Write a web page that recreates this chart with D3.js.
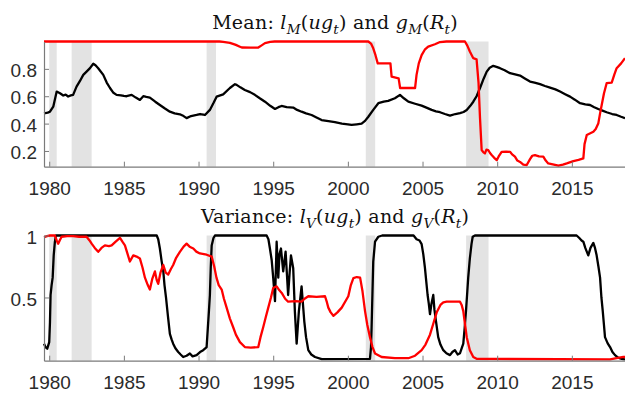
<!DOCTYPE html>
<html>
<head>
<meta charset="utf-8">
<script src="https://cdn.jsdelivr.net/npm/d3@7"></script>
<style>
  body { margin: 0; background: #fff; }
  svg { display: block; }
  .tick text { font-family: "Liberation Sans", Arial, sans-serif; font-size: 19px; fill: #2b2b2b; }
  .title { font-family: "DejaVu Serif", serif; font-size: 19px; letter-spacing: 0.25px; fill: #111; }
</style>
</head>
<body>
<div id="chart"></div>
<script>
// NBER recessions (year fractions)
const recessions = [[1980.0, 1980.5], [1981.5, 1982.84], [1990.54, 1991.17], [2001.2, 2001.83], [2007.92, 2009.42]]
const yearTicks = [1980, 1985, 1990, 1995, 2000, 2005, 2010, 2015]
const meanTicks = [0.2, 0.4, 0.6, 0.8]
const varTicks = [0.5, 1]

// Mean panel: l_M(ug_t) black
const lMean = [[1979.65,0.475],[1979.9,0.48],[1980.05,0.487],[1980.27,0.524],[1980.5,0.634],[1980.72,0.622],
  [1980.94,0.605],[1981.1,0.612],[1981.27,0.598],[1981.45,0.606],[1981.6,0.61],[1981.83,0.67],[1982.05,0.71],
  [1982.28,0.756],[1982.5,0.78],[1982.73,0.805],[1982.95,0.837],[1983.1,0.826],[1983.28,0.805],[1983.62,0.756],
  [1983.85,0.7],[1984.07,0.66],[1984.3,0.625],[1984.51,0.61],[1984.8,0.607],[1985.0,0.602],[1985.18,0.6],
  [1985.52,0.61],[1985.8,0.59],[1986.07,0.573],[1986.3,0.6],[1986.5,0.595],[1986.74,0.59],[1987.1,0.56],
  [1987.41,0.536],[1987.75,0.51],[1988.08,0.487],[1988.4,0.475],[1988.75,0.468],[1989.0,0.455],[1989.2,0.44],
  [1989.5,0.455],[1989.87,0.463],[1990.1,0.47],[1990.43,0.463],[1990.76,0.5],[1991.0,0.55],[1991.21,0.597],
  [1991.65,0.614],[1992.1,0.66],[1992.44,0.688],[1992.55,0.683],[1992.8,0.665],[1993.1,0.646],[1993.45,0.63],
  [1993.77,0.61],[1994.1,0.585],[1994.45,0.56],[1994.8,0.53],[1995.12,0.507],[1995.35,0.52],[1995.56,0.529],
  [1995.9,0.52],[1996.34,0.517],[1996.6,0.5],[1996.9,0.487],[1997.2,0.475],[1997.57,0.463],[1997.9,0.445],
  [1998.24,0.426],[1998.7,0.418],[1999.13,0.41],[1999.6,0.4],[2000.0,0.395],[2000.25,0.39],[2000.6,0.395],
  [2000.92,0.4],[2001.15,0.42],[2001.37,0.45],[2001.7,0.5],[2002.04,0.549],[2002.4,0.56],[2002.7,0.566],
  [2003.15,0.585],[2003.49,0.61],[2003.75,0.585],[2004.05,0.56],[2004.5,0.545],[2004.94,0.531],[2005.3,0.515],
  [2005.61,0.5],[2005.9,0.49],[2006.17,0.483],[2006.5,0.47],[2006.84,0.458],[2007.2,0.47],[2007.51,0.476],
  [2007.75,0.485],[2007.96,0.5],[2008.2,0.53],[2008.4,0.56],[2008.62,0.6],[2008.85,0.66],[2009.1,0.73],
  [2009.3,0.78],[2009.5,0.808],[2009.74,0.822],[2009.95,0.815],[2010.19,0.805],[2010.5,0.79],[2010.86,0.768],
  [2011.2,0.76],[2011.53,0.751],[2011.85,0.73],[2012.2,0.707],[2012.5,0.7],[2012.87,0.688],[2013.2,0.675],
  [2013.54,0.663],[2013.9,0.65],[2014.21,0.634],[2014.55,0.615],[2014.88,0.597],[2015.2,0.575],[2015.55,0.549],
  [2015.9,0.54],[2016.22,0.536],[2016.5,0.52],[2016.77,0.507],[2017.05,0.495],[2017.33,0.483],[2017.7,0.47],
  [2018.0,0.463],[2018.3,0.45],[2018.56,0.44]]

// Mean panel: g_M(R_t) red
const gMean = [[1979.65,1.0],[1991.4,1.0],[1991.65,0.998],[1992.1,0.99],[1992.5,0.975],[1992.77,0.962],
  [1992.9,0.956],[1993.5,0.955],[1994.0,0.956],[1994.2,0.97],[1994.45,0.988],[1994.8,0.997],[1995.1,1.0],
  [2001.37,1.0],[2001.55,0.985],[2001.7,0.95],[2001.85,0.9],[2002.0,0.84],[2002.85,0.84],[2002.93,0.744],
  [2003.4,0.73],[2003.5,0.66],[2004.5,0.66],[2004.6,0.756],[2004.75,0.84],[2004.94,0.9],[2005.15,0.94],
  [2005.38,0.963],[2005.83,0.98],[2006.17,0.996],[2006.6,1.0],[2007.84,1.0],[2008.0,0.97],[2008.17,0.927],
  [2008.4,0.878],[2008.62,0.87],[2008.75,0.7],[2008.85,0.44],[2008.96,0.207],[2009.08,0.19],[2009.18,0.182],
  [2009.28,0.21],[2009.4,0.207],[2009.52,0.185],[2009.63,0.17],[2009.8,0.15],[2009.97,0.133],[2010.1,0.16],
  [2010.3,0.194],[2010.6,0.195],[2010.86,0.194],[2011.0,0.175],[2011.19,0.158],[2011.35,0.13],[2011.53,0.12],
  [2011.75,0.1],[2011.98,0.097],[2012.2,0.14],[2012.35,0.165],[2012.53,0.17],[2012.8,0.16],[2013.09,0.158],
  [2013.25,0.13],[2013.42,0.109],[2013.8,0.1],[2014.1,0.092],[2014.4,0.1],[2014.66,0.109],[2015.1,0.126],
  [2015.45,0.135],[2015.77,0.146],[2015.85,0.25],[2016.0,0.316],[2016.44,0.34],[2016.6,0.36],[2016.77,0.4],
  [2016.9,0.48],[2017.0,0.536],[2017.15,0.62],[2017.33,0.695],[2017.67,0.7],[2017.85,0.76],[2018.0,0.805],
  [2018.3,0.84],[2018.56,0.878]]

// Variance panel: l_V(ug_t) black
const lVar = [[1979.65,0.127],[1979.75,0.1],[1979.87,0.087],[1979.95,0.12],[1980.0,0.14],[1980.05,0.3],
  [1980.09,0.52],[1980.16,0.6],[1980.23,0.66],[1980.3,0.84],[1980.38,0.95],[1980.45,1.0],[1987.2,1.0],
  [1987.3,0.97],[1987.41,0.895],[1987.52,0.8],[1987.64,0.71],[1987.72,0.6],[1987.82,0.5],[1987.95,0.35],
  [1988.08,0.206],[1988.2,0.16],[1988.3,0.127],[1988.45,0.09],[1988.64,0.06],[1988.8,0.04],[1988.97,0.02],
  [1989.2,0.03],[1989.42,0.048],[1989.6,0.025],[1989.87,0.035],[1990.1,0.06],[1990.31,0.075],[1990.45,0.09],
  [1990.54,0.1],[1990.62,0.25],[1990.7,0.4],[1990.76,0.52],[1990.82,0.75],[1990.88,0.92],[1991.0,0.98],
  [1991.1,1.0],[1994.56,1.0],[1994.68,0.97],[1994.78,0.895],[1994.9,0.8],[1995.0,0.66],[1995.12,0.47],
  [1995.23,0.95],[1995.34,0.66],[1995.42,0.85],[1995.52,0.895],[1995.67,0.71],[1995.83,0.87],[1996.0,0.52],
  [1996.1,0.7],[1996.19,0.84],[1996.34,0.736],[1996.45,0.39],[1996.57,0.127],[1996.64,0.25],[1996.72,0.39],
  [1996.9,0.59],[1997.08,0.31],[1997.2,0.18],[1997.35,0.075],[1997.55,0.04],[1997.8,0.02],[1998.25,0.003],
  [2001.48,0.005],[2001.55,0.1],[2001.59,0.26],[2001.65,0.55],[2001.7,0.79],[2001.82,0.95],[2002.04,0.99],
  [2002.3,1.0],[2004.4,1.0],[2004.6,0.97],[2004.8,0.96],[2004.94,0.93],[2005.05,0.85],[2005.16,0.74],
  [2005.25,0.63],[2005.34,0.52],[2005.42,0.45],[2005.5,0.365],[2005.6,0.45],[2005.72,0.52],[2005.8,0.4],
  [2005.9,0.31],[2006.05,0.18],[2006.2,0.12],[2006.39,0.075],[2006.6,0.05],[2006.84,0.035],[2007.0,0.06],
  [2007.17,0.075],[2007.35,0.04],[2007.51,0.05],[2007.62,0.09],[2007.73,0.127],[2007.82,0.25],[2007.91,0.39],
  [2008.0,0.55],[2008.06,0.66],[2008.17,0.815],[2008.28,0.93],[2008.36,0.99],[2008.51,1.0],[2015.32,1.0],
  [2015.5,0.98],[2015.65,0.96],[2015.77,0.95],[2015.9,0.9],[2016.1,0.84],[2016.25,0.9],[2016.44,0.94],
  [2016.55,0.9],[2016.66,0.84],[2016.78,0.75],[2016.89,0.66],[2016.98,0.5],[2017.07,0.39],[2017.15,0.28],
  [2017.22,0.18],[2017.4,0.13],[2017.56,0.1],[2017.72,0.06],[2017.89,0.035],[2018.1,0.015],[2018.34,0.005],
  [2018.56,0.0]]

// Variance panel: g_V(R_t) red
const gVar = [[1979.65,0.987],[1979.85,0.995],[1980.05,1.0],[1980.38,1.0],[1980.5,0.96],[1980.6,0.934],
  [1980.7,0.96],[1980.83,0.99],[1981.2,0.995],[1981.6,0.995],[1982.0,0.99],[1982.5,0.99],[1982.7,0.96],
  [1982.84,0.934],[1983.05,0.9],[1983.28,0.868],[1983.5,0.9],[1983.73,0.92],[1984.0,0.915],[1984.18,0.92],
  [1984.45,0.95],[1984.74,0.98],[1984.9,0.95],[1985.07,0.92],[1985.25,0.85],[1985.4,0.79],[1985.63,0.84],
  [1985.85,0.83],[1986.07,0.815],[1986.25,0.74],[1986.41,0.66],[1986.6,0.6],[1986.74,0.564],[1986.9,0.65],
  [1987.08,0.71],[1987.2,0.64],[1987.3,0.61],[1987.45,0.7],[1987.64,0.762],[1987.8,0.7],[1987.97,0.685],
  [1988.15,0.73],[1988.3,0.762],[1988.5,0.82],[1988.75,0.868],[1989.0,0.91],[1989.2,0.934],[1989.4,0.91],
  [1989.65,0.895],[1989.85,0.87],[1990.09,0.855],[1990.54,0.845],[1990.88,0.83],[1991.05,0.75],[1991.2,0.66],
  [1991.35,0.6],[1991.55,0.564],[1991.7,0.49],[1991.88,0.418],[1992.1,0.33],[1992.32,0.26],[1992.5,0.2],
  [1992.77,0.14],[1993.1,0.1],[1993.5,0.095],[1994.0,0.1],[1994.15,0.18],[1994.33,0.26],[1994.5,0.34],
  [1994.67,0.418],[1994.85,0.5],[1995.0,0.577],[1995.23,0.59],[1995.4,0.56],[1995.57,0.537],[1995.8,0.49],
  [1996.0,0.466],[1996.5,0.47],[1996.9,0.466],[1997.1,0.49],[1997.35,0.51],[1997.9,0.505],[1998.47,0.51],
  [1998.6,0.46],[1998.69,0.418],[1998.85,0.38],[1999.03,0.352],[1999.3,0.38],[1999.59,0.418],[2000.03,0.51],
  [2000.2,0.6],[2000.37,0.656],[2000.6,0.665],[2000.82,0.66],[2000.98,0.55],[2001.15,0.39],[2001.3,0.28],
  [2001.48,0.18],[2001.65,0.1],[2001.82,0.048],[2002.26,0.02],[2003.15,0.01],[2004.05,0.01],[2004.5,0.03],
  [2004.94,0.075],[2005.2,0.12],[2005.5,0.2],[2005.75,0.3],[2005.95,0.38],[2006.2,0.44],[2006.39,0.46],
  [2006.62,0.466],[2007.51,0.466],[2007.62,0.44],[2007.73,0.39],[2007.85,0.28],[2007.96,0.18],[2008.17,0.075],
  [2008.4,0.02],[2008.62,0.005],[2017.56,0.0],[2018.0,0.01],[2018.45,0.02],[2018.56,0.02]]

let svgWidth = 625, svgHeight = 397
let svg = d3.select("#chart").append("svg")
    .attr("width", svgWidth)
    .attr("height", svgHeight)

let x = d3.scaleLinear().domain([1979.65, 2018.56]).range([44, 625])

let panels = [
    {top: 41.5, bottom: 166.7, domain: [0.085, 1.0], ticks: meanTicks, fmt: d3.format(".1f"),
     black: lMean, red: gMean, titleY: 28.5, title: "M", titleLabel: "Mean: "},
    {top: 235.5, bottom: 360.7, domain: [-0.01, 1.0], ticks: varTicks, fmt: d => d == 1 ? "1" : "0.5",
     black: lVar, red: gVar, titleY: 223.3, title: "V", titleLabel: "Variance: "}
]

panels.forEach((p, i) => {
    let y = d3.scaleLinear().domain(p.domain).range([p.bottom, p.top])
    let g = svg.append("g")

    // recession shading
    g.selectAll(".rec")
        .data(recessions)
        .enter().append("rect")
        .attr("x", d => x(d[0]))
        .attr("width", d => x(d[1]) - x(d[0]))
        .attr("y", p.top)
        .attr("height", p.bottom - p.top)
        .attr("fill", "#e3e3e3")

    let line = d3.line()
        .x(d => x(d[0]))
        .y(d => y(d[1]))

    g.append("path")
        .datum(p.black)
        .attr("d", line)
        .attr("fill", "none")
        .attr("stroke", "#000")
        .attr("stroke-width", 2.3)
        .attr("stroke-linejoin", "round")

    g.append("path")
        .datum(p.red)
        .attr("d", line)
        .attr("fill", "none")
        .attr("stroke", "#f00")
        .attr("stroke-width", 2.3)
        .attr("stroke-linejoin", "round")

    // axes, ticks pointing inward
    let xAxis = g.append("g")
        .attr("transform", `translate(0,${p.bottom})`)
        .call(d3.axisBottom(x).tickValues(yearTicks).tickFormat(d3.format("d"))
            .tickSizeInner(-5).tickSizeOuter(0).tickPadding(15))
    let yAxis = g.append("g")
        .attr("transform", "translate(44,0)")
        .call(d3.axisLeft(y).tickValues(p.ticks).tickFormat(p.fmt)
            .tickSizeInner(-5).tickSizeOuter(0).tickPadding(7))
    yAxis.selectAll("text").attr("dy", "0.4em")
    ;[xAxis, yAxis].forEach(a => {
        a.select(".domain").attr("stroke", "#7a7a7a").attr("stroke-width", 1.2)
        a.selectAll(".tick line").attr("stroke", "#7a7a7a")
    })

    // title with math-style pieces
    let t = svg.append("text")
        .attr("class", "title")
        .attr("x", 335)
        .attr("y", p.titleY)
        .attr("text-anchor", "middle")
    let parts = [
        [p.titleLabel, "normal", 0], ["l", "italic", 0], [p.title, "italic", 1], ["(", "normal", 0],
        ["ug", "italic", 0], ["t", "italic", 1], [")", "normal", 0], [" and ", "normal", 0], ["g", "italic", 0],
        [p.title, "italic", 1], ["(", "normal", 0], ["R", "italic", 0], ["t", "italic", 1], [")", "normal", 0]
    ]
    let prevSub = 0
    parts.forEach(part => {
        let dy = part[2] - prevSub
        t.append("tspan")
            .attr("font-style", part[1])
            .attr("font-size", part[2] ? "13.5px" : null)
            .attr("dy", dy ? dy * 5 : null)
            .text(part[0])
        prevSub = part[2]
    })
})
</script>
</body>
</html>
